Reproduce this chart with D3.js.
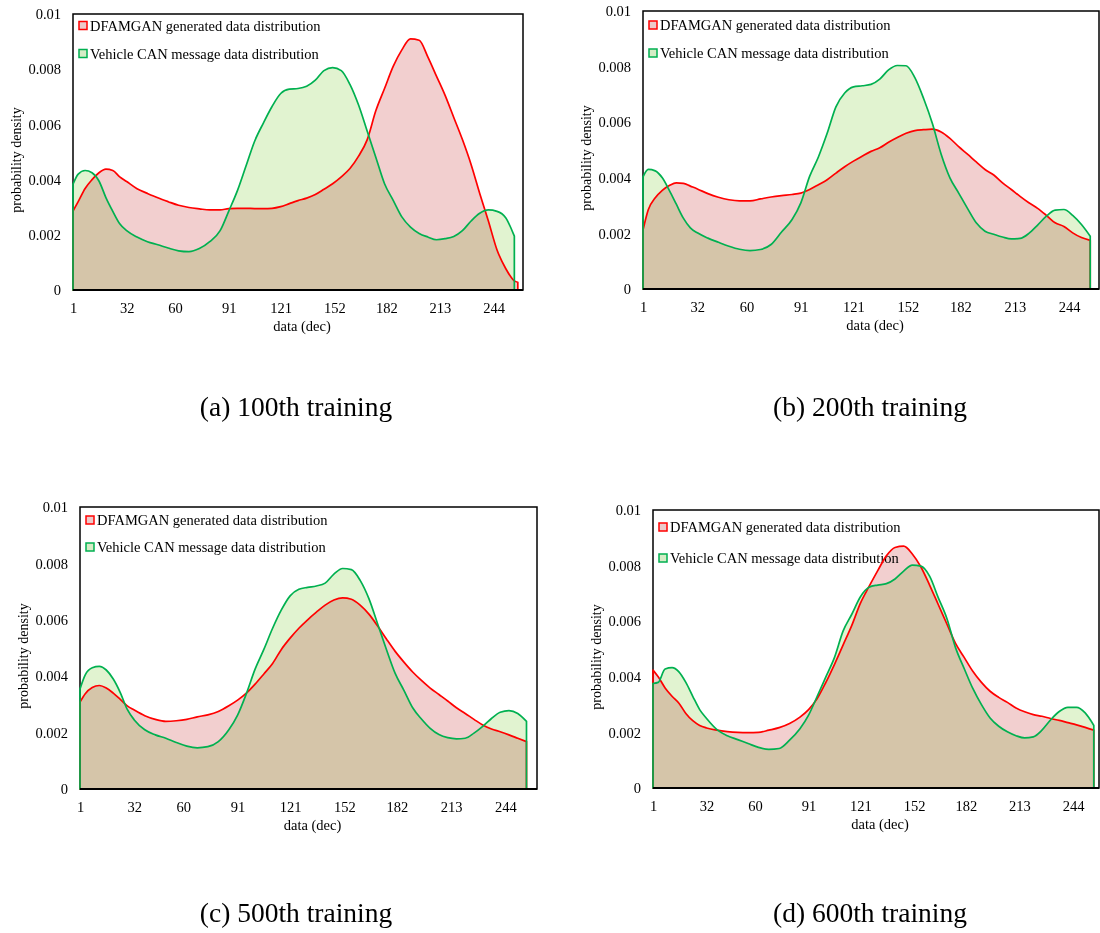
<!DOCTYPE html>
<html>
<head>
<meta charset="utf-8">
<script src="https://cdn.jsdelivr.net/npm/d3@7"></script>
<style>
  body { margin: 0; background: #fff; }
  svg text { font-family: "Liberation Serif", "Times New Roman", serif; fill: #000; }
</style>
</head>
<body>
<svg id="drawing_region"></svg>
<script>
const UNIT = 0.001;

const xGrid = [1, 4, 8, 12, 16, 20, 24, 28, 32, 38, 44, 50, 56, 62, 68, 74, 80, 86,
  91, 96, 101, 106, 111, 116, 121, 126, 131, 136, 141, 146, 151, 156, 161, 166, 171, 176,
  181, 186, 191, 196, 201, 206, 211, 216, 221, 226, 231, 236, 241, 246, 251, 256];
const xGridRedA = xGrid.concat([258]); // red curve of (a) runs a bit further

const redA = [2.86, 3.2, 3.68, 4.0, 4.25, 4.38, 4.33, 4.1, 3.93, 3.67, 3.5, 3.34, 3.2, 3.07, 2.99, 2.94, 2.9, 2.9,
  2.95, 2.96, 2.96, 2.95, 2.95, 2.96, 3.02, 3.13, 3.24, 3.33, 3.46, 3.65, 3.85, 4.1, 4.4, 4.85, 5.45, 6.5,
  7.3, 8.1, 8.7, 9.1, 9.05, 8.45, 7.75, 7.05, 6.25, 5.45, 4.55, 3.5, 2.5, 1.45, 0.78, 0.33, 0.28];
const greenA = [3.83, 4.2, 4.33, 4.25, 3.95, 3.35, 2.85, 2.4, 2.15, 1.92, 1.75, 1.64, 1.52, 1.42, 1.39, 1.5, 1.75, 2.15,
  2.86, 3.6, 4.5, 5.4, 6.05, 6.65, 7.12, 7.28, 7.3, 7.38, 7.6, 7.95, 8.06, 7.95, 7.45, 6.7, 5.75, 4.8,
  3.85, 3.25, 2.65, 2.28, 2.05, 1.92, 1.82, 1.86, 1.94, 2.15, 2.5, 2.78, 2.9, 2.85, 2.62, 1.95];

const redB = [2.12, 2.85, 3.28, 3.55, 3.72, 3.82, 3.8, 3.7, 3.6, 3.43, 3.3, 3.21, 3.17, 3.17, 3.24, 3.31, 3.36, 3.4,
  3.45, 3.58, 3.75, 3.93, 4.17, 4.4, 4.6, 4.78, 4.95, 5.08, 5.28, 5.45, 5.6, 5.7, 5.73, 5.75, 5.65, 5.42,
  5.12, 4.85, 4.57, 4.3, 4.1, 3.82, 3.58, 3.33, 3.1, 2.9, 2.65, 2.38, 2.25, 2.02, 1.85, 1.75];
const greenB = [4.03, 4.3, 4.25, 4.0, 3.55, 3.05, 2.55, 2.2, 2.02, 1.83, 1.68, 1.54, 1.43, 1.38, 1.42, 1.6, 2.05, 2.5,
  3.1, 4.05, 4.75, 5.6, 6.55, 7.05, 7.27, 7.31, 7.36, 7.55, 7.88, 8.04, 8.03, 7.6, 6.85, 5.95, 4.85, 4.0,
  3.45, 2.9, 2.38, 2.08, 1.97, 1.87, 1.8, 1.82, 2.0, 2.3, 2.62, 2.84, 2.86, 2.65, 2.32, 1.9];

const redC = [3.08, 3.38, 3.6, 3.67, 3.58, 3.4, 3.18, 2.95, 2.8, 2.6, 2.47, 2.4, 2.42, 2.47, 2.56, 2.63, 2.75, 2.95,
  3.15, 3.4, 3.72, 4.08, 4.45, 4.95, 5.35, 5.7, 6.0, 6.27, 6.52, 6.7, 6.78, 6.73, 6.52, 6.2, 5.78, 5.32,
  4.88, 4.5, 4.15, 3.85, 3.58, 3.35, 3.12, 2.88, 2.68, 2.47, 2.27, 2.13, 2.03, 1.92, 1.8, 1.68];
const greenC = [3.55, 4.05, 4.3, 4.35, 4.22, 3.9, 3.42, 2.82, 2.45, 2.1, 1.92, 1.8, 1.65, 1.52, 1.46, 1.5, 1.68, 2.1,
  2.62, 3.38, 4.25, 4.95, 5.7, 6.35, 6.85, 7.08, 7.15, 7.2, 7.3, 7.62, 7.82, 7.78, 7.4, 6.75, 5.85, 4.95,
  4.1, 3.5, 2.88, 2.48, 2.15, 1.93, 1.82, 1.78, 1.8, 1.98, 2.22, 2.5, 2.72, 2.78, 2.68, 2.4];

const redD = [4.24, 4.0, 3.6, 3.3, 3.05, 2.68, 2.42, 2.25, 2.16, 2.08, 2.03, 2.0, 1.99, 2.0, 2.08, 2.17, 2.32, 2.55,
  2.82, 3.22, 3.8, 4.45, 5.15, 5.85, 6.65, 7.25, 7.82, 8.35, 8.65, 8.7, 8.42, 7.95, 7.3, 6.6, 5.9, 5.2,
  4.7, 4.2, 3.8, 3.48, 3.26, 3.08, 2.88, 2.74, 2.64, 2.58, 2.5, 2.43, 2.35, 2.27, 2.18, 2.08];
const greenD = [3.76, 3.8, 4.28, 4.33, 4.18, 3.8, 3.3, 2.82, 2.5, 2.1, 1.88, 1.74, 1.6, 1.46, 1.39, 1.42, 1.72, 2.13,
  2.62, 3.3, 4.0, 4.7, 5.65, 6.25, 6.88, 7.22, 7.3, 7.35, 7.52, 7.8, 8.02, 7.98, 7.62, 6.85, 6.1, 5.05,
  4.3, 3.58, 3.0, 2.52, 2.22, 2.02, 1.88, 1.8, 1.84, 2.08, 2.45, 2.75, 2.9, 2.9, 2.7, 2.25];

const xTicks = [1, 32, 60, 91, 121, 152, 182, 213, 244];
const yTicks = [0, 0.002, 0.004, 0.006, 0.008, 0.01];
const seriesNames = ["DFAMGAN generated data distribution", "Vehicle CAN message data distribution"];
const captions = ["(a) 100th training", "(b) 200th training", "(c) 500th training", "(d) 600th training"];

const toPoints = (xs, vs) => vs.map((v, i) => ({x: xs[i], y: v * UNIT}));

const svg = d3.select('#drawing_region')
    .attr('width', 1100)
    .attr('height', 933);

svg.append('rect')
    .attr('width', 1100)
    .attr('height', 933)
    .attr('fill', '#fff');

class DensityPanel {
    constructor(config, data) {
        this.config = config;
        this.data = data;
        this.init();
    }

    init() {
        let self = this;
        let c = self.config;

        self.g = svg.append('g');

        self.xscale = d3.scaleLinear()
            .domain([1, c.xMax])
            .range([c.left, c.right]);

        self.yscale = d3.scaleLinear()
            .domain([0, 0.01])
            .range([c.bottom, c.top]);

        self.styles = [
            {line: '#ff0000', fill: '#f2cfcf', mark: '#ecc9c9'},
            {line: '#00b050', fill: '#e1f3d0', mark: '#d6ecc6'}
        ];
    }

    render() {
        let self = this;
        let c = self.config;

        // frame
        self.g.append('rect')
            .attr('x', c.left)
            .attr('y', c.top)
            .attr('width', c.right - c.left)
            .attr('height', c.bottom - c.top)
            .attr('fill', 'none')
            .attr('stroke', '#000')
            .attr('stroke-width', 1.5);

        // legend sits under the curves
        seriesNames.forEach((name, i) => {
            let cy = c.top + c.legendY[i];
            self.g.append('rect')
                .attr('x', c.left + 6)
                .attr('y', cy - 4)
                .attr('width', 8)
                .attr('height', 8)
                .attr('fill', self.styles[i].mark)
                .attr('stroke', self.styles[i].line)
                .attr('stroke-width', 1.5);
            self.g.append('text')
                .attr('x', c.left + 17)
                .attr('y', cy + 5)
                .attr('font-size', '14.5px')
                .text(name);
        });

        const area = d3.area()
            .x(d => self.xscale(d.x))
            .y0(self.yscale(0))
            .y1(d => self.yscale(d.y))
            .curve(d3.curveMonotoneX);

        self.g.selectAll('path.fill')
            .data(self.data)
            .enter()
            .append('path')
            .attr('class', 'fill')
            .attr('d', d => area(d))
            .attr('fill', (d, i) => self.styles[i].fill)
            .style('mix-blend-mode', 'multiply');

        self.g.selectAll('path.outline')
            .data(self.data)
            .enter()
            .append('path')
            .attr('class', 'outline')
            .attr('d', d => area(d))
            .attr('fill', 'none')
            .attr('stroke', (d, i) => self.styles[i].line)
            .attr('stroke-width', 1.7)
            .attr('stroke-linejoin', 'round');

        // bottom axis line on top
        self.g.append('line')
            .attr('x1', c.left)
            .attr('x2', c.right)
            .attr('y1', c.bottom)
            .attr('y2', c.bottom)
            .attr('stroke', '#000')
            .attr('stroke-width', 2);

        const yaxis = d3.axisLeft(self.yscale)
            .tickValues(yTicks)
            .tickFormat(d3.format('.3~f'))
            .tickSize(0)
            .tickPadding(12);

        const yg = self.g.append('g')
            .attr('transform', `translate(${c.left}, 0)`)
            .call(yaxis)
            .attr('font-family', null)
            .attr('font-size', '14.5px');
        yg.select('.domain').remove();

        const xaxis = d3.axisBottom(self.xscale)
            .tickValues(xTicks)
            .tickSize(0)
            .tickPadding(12.5);

        const xg = self.g.append('g')
            .attr('transform', `translate(0, ${c.bottom})`)
            .call(xaxis)
            .attr('font-family', null)
            .attr('font-size', '14.5px');
        xg.select('.domain').remove();

        self.g.append('text')
            .attr('x', (c.left + c.right) / 2 + 4)
            .attr('y', c.bottom + 41)
            .attr('text-anchor', 'middle')
            .attr('font-size', '14.5px')
            .text('data (dec)');

        self.g.append('text')
            .attr('transform', `translate(${c.left - 52}, ${(c.top + c.bottom) / 2 + 8}) rotate(-90)`)
            .attr('text-anchor', 'middle')
            .attr('font-size', '14px')
            .text('probability density');

        self.g.append('text')
            .attr('x', c.capX)
            .attr('y', c.capY)
            .attr('text-anchor', 'middle')
            .attr('font-size', '27.5px')
            .text(c.caption);
    }
}

const layouts = [
    {left: 73, right: 523, top: 14, bottom: 290, xMax: 261, legendY: [11.5, 39.5], capX: 296, capY: 416},
    {left: 643, right: 1099, top: 11, bottom: 289, xMax: 261, legendY: [14, 42], capX: 870, capY: 416},
    {left: 80, right: 537, top: 507, bottom: 789, xMax: 262, legendY: [13, 40], capX: 296, capY: 922},
    {left: 653, right: 1099, top: 510, bottom: 788, xMax: 259, legendY: [17, 48], capX: 870, capY: 922}
];

const panelData = [
    [toPoints(xGridRedA, redA), toPoints(xGrid, greenA)],
    [toPoints(xGrid, redB), toPoints(xGrid, greenB)],
    [toPoints(xGrid, redC), toPoints(xGrid, greenC)],
    [toPoints(xGrid, redD), toPoints(xGrid, greenD)]
];

layouts.forEach((layout, i) => {
    const panel = new DensityPanel(Object.assign({caption: captions[i]}, layout), panelData[i]);
    panel.render();
});
</script>
</body>
</html>
